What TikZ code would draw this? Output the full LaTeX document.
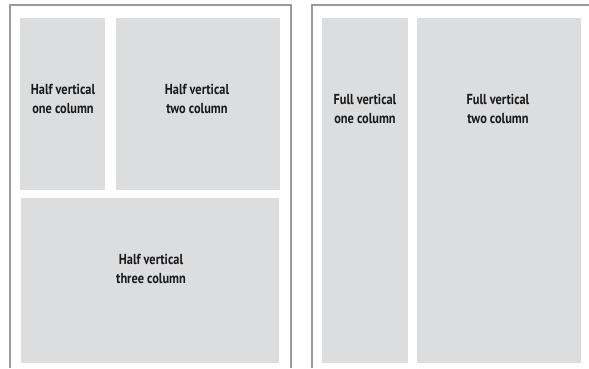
\documentclass[tikz,border=0pt]{standalone}
\usepackage{fontspec}
\newfontfamily\labfont[FakeStretch=0.85]{PT Sans}
\definecolor{boxgray}{HTML}{DCDDDF}
\definecolor{pagegray}{HTML}{9A9A9A}
\begin{document}
\begin{tikzpicture}[x=1pt,y=-1pt,
  page/.style={draw=pagegray,line width=1.6pt},
  panel/.style={fill=boxgray,draw=none},
  lab/.style={font=\labfont\bfseries\fontsize{14.5}{18.5}\selectfont,align=center,text=black!90}]
\useasboundingbox (0,0) rectangle (589,368);
\fill[white] (0,0) rectangle (589,368);
% pages
\draw[page] (10,368) -- (10,5) -- (291,5) -- (291,368);
\draw[page] (312,368) -- (312,5) -- (589,5);
% left page panels
\fill[panel] (20,18) rectangle (105,190) coordinate (hv1);
\fill[panel] (116,18) rectangle (280,190) coordinate (hv2);
\fill[panel] (21,198) rectangle (279,363) coordinate (hv3);
% right page panels
\fill[panel] (322,18) rectangle (408,363) coordinate (fv1);
\fill[panel] (417,18) rectangle (581,363) coordinate (fv2);
% labels
\node[lab] (t1) at (63,99) {Half vertical\\one column};
\node[lab] (t2) at (197,99) {Half vertical\\two column};
\node[lab] (t3) at (151,269) {Half vertical\\three column};
\node[lab] (t4) at (365,109) {Full vertical\\one column};
\node[lab] (t5) at (498,109) {Full vertical\\two column};
\end{tikzpicture}
\end{document}
